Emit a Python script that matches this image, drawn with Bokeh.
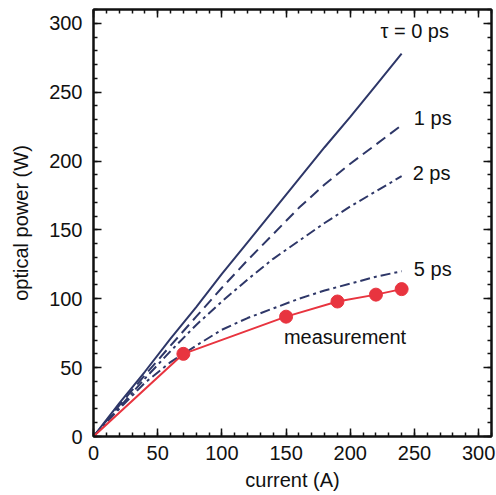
from bokeh.plotting import figure
from bokeh.models import Range1d, LinearAxis, SingleIntervalTicker
from bokeh.core.properties import value
from bokeh.embed import file_html
from bokeh.resources import INLINE

# model curves (current in A, optical power in W)
model_x = [0, 20, 40, 60, 80, 100, 120, 140, 160, 180, 200, 220, 240]
tau0_y = [0, 24, 47, 71, 94, 118, 141, 164, 187, 210, 232, 255, 278]
tau1_y = [0, 22.5, 44.5, 66, 87, 108, 128, 147, 166, 183, 198, 212, 226]
tau2_y = [0, 21, 42, 62, 81, 98, 114, 129, 142, 155, 167, 178, 189]
tau5_y = [0, 20, 39, 54, 66, 77.5, 86, 93, 100, 106, 111, 116, 120]

# measurement
meas_x = [0, 70, 150, 190, 220, 240]
meas_y = [0, 60, 87, 98, 103, 107]

curve_labels = ["\u03c4 = 0 ps", "1 ps", "2 ps", "5 ps", "measurement"]
label_x = [223.5, 249.5, 248.6, 249.5, 148.3]
label_y = [294.4, 231.2, 191.3, 121.8, 72.1]

NAVY = "#2e3768"
RED = "#e8343f"
FONT = "Liberation Sans"

p = figure(width=496, height=495, output_backend="svg", toolbar_location=None,
           x_range=Range1d(0, 310), y_range=Range1d(0, 310),
           min_border_left=93, min_border_right=5, min_border_top=9,
           min_border_bottom=59)
p.outline_line_color = "#111111"
p.outline_line_width = 2
p.xgrid.visible = False
p.ygrid.visible = False
p.background_fill_color = "white"
p.border_fill_color = "white"

def style_axis(ax, labels=True):
    ax.ticker = SingleIntervalTicker(interval=50, num_minor_ticks=5)
    ax.axis_line_width = 2
    ax.axis_line_color = "#111111"
    ax.major_tick_line_width = 1.5
    ax.minor_tick_line_width = 1.5
    ax.major_tick_line_color = "#111111"
    ax.minor_tick_line_color = "#111111"
    ax.major_tick_in = 8
    ax.major_tick_out = 0
    ax.minor_tick_in = 4
    ax.minor_tick_out = 0
    ax.major_label_text_font = FONT
    ax.major_label_text_font_size = "20px"
    ax.major_label_text_color = "#111111"
    ax.axis_label_text_font = FONT
    ax.axis_label_text_font_size = "20px"
    ax.axis_label_text_font_style = "normal"
    ax.axis_label_text_color = "#111111"
    if not labels:
        ax.major_label_text_color = None
        ax.major_label_text_font_size = "1px"
        ax.major_label_standoff = 0

style_axis(p.xaxis[0])
style_axis(p.yaxis[0])
p.xaxis[0].axis_label = "current (A)"
p.yaxis[0].axis_label = "optical power (W)"
p.xaxis[0].major_label_standoff = 9
p.yaxis[0].major_label_standoff = 11
p.xaxis[0].axis_label_standoff = 6
p.yaxis[0].axis_label_standoff = 14

top = LinearAxis()
right = LinearAxis()
style_axis(top, labels=False)
style_axis(right, labels=False)
p.add_layout(top, "above")
p.add_layout(right, "right")

p.line(model_x, tau0_y, line_color=NAVY, line_width=2)
p.line(model_x, tau1_y, line_color=NAVY, line_width=2, line_dash="11 6")
p.line(model_x, tau2_y, line_color=NAVY, line_width=2, line_dash="10 4 3 4")
p.line(model_x, tau5_y, line_color=NAVY, line_width=2, line_dash="10 4 3 4")

p.line(meas_x, meas_y, line_color=RED, line_width=2)
p.scatter(meas_x[1:], meas_y[1:], size=13, fill_color=RED, line_color=RED)

p.text(x=label_x, y=label_y, text=curve_labels, text_font=value(FONT),
       text_font_size="20px", text_color="#111111", text_baseline="middle",
       text_align="left")

open("out.html", "w").write(file_html(p, INLINE))
